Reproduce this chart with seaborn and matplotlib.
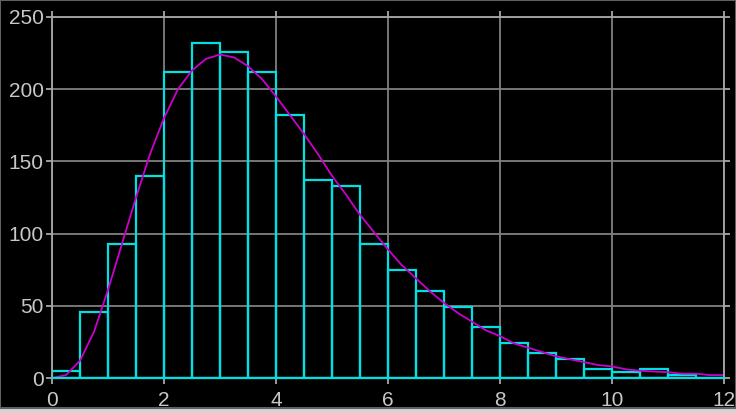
import numpy as np
import pandas as pd
import matplotlib
matplotlib.use("Agg")
import matplotlib.pyplot as plt
from matplotlib.patches import Rectangle
import seaborn as sns

# Histogram: bins of width 0.5 from 0 to 12, counts
bin_left = np.arange(0, 12, 0.5)
counts = [5, 46, 93, 140, 212, 232, 226, 212, 182, 137, 133, 93,
          75, 60, 49, 35, 24, 17, 13, 6, 4, 6, 2, 0]

# Fitted curve (magenta), values every 0.25
curve_x = np.arange(0, 12.25, 0.25)
curve_y = [0, 2, 12, 32, 61, 93, 125, 155, 180, 200, 213, 221, 224,
           222, 216, 207, 195, 182, 169, 155, 140, 127, 113, 101, 89,
           78, 69, 60, 52, 45, 39, 33, 29, 24, 21, 18, 15, 13, 11, 9,
           8, 6, 5, 4.5, 4, 3, 3, 2, 2]

hist_df = pd.DataFrame({"x": bin_left + 0.25, "n": counts})
curve_df = pd.DataFrame({"x": curve_x, "y": curve_y})

sns.set_style("dark")
plt.rcParams["font.family"] = ["Liberation Sans", "DejaVu Sans"]

fig = plt.figure(figsize=(7.36, 4.13), dpi=100, facecolor="black")
ax = fig.add_axes([52 / 736, 1 - 378 / 413, 672 / 736, 361 / 413])
ax.set_facecolor("black")

sns.histplot(data=hist_df, x="x", weights="n", binwidth=0.5,
             binrange=(0, 12), fill=False, element="bars",
             color="#00e0e0", linewidth=1.6, ax=ax)
sns.lineplot(data=curve_df, x="x", y="y", color="#cc00cc", linewidth=1.3,
             ax=ax)

ax.set_xlim(0, 12)
ax.set_ylim(0, 250)
ax.set_xticks(range(0, 13, 2))
ax.set_yticks(range(0, 251, 50))
ax.set_xlabel("")
ax.set_ylabel("")
ax.grid(True, color="#808080", linewidth=1.3)
ax.set_axisbelow(True)
for s in ax.spines.values():
    s.set_visible(True)
    s.set_color("#a8a8a8")
    s.set_linewidth(1.3)
# bar bottoms run along the whole x range in the reference
ax.spines["bottom"].set_color("#00e0e0")
ax.spines["bottom"].set_linewidth(1.6)
ax.tick_params(axis="both", colors="#a8a8a8", labelcolor="#c8c8c8",
               labelsize=15, length=4, width=1.3, direction="out",
               top=True, right=True, bottom=True, left=True,
               labeltop=False, labelright=False)
ax.tick_params(axis="x", pad=5)
ax.tick_params(axis="y", pad=2)

# window frame
fig.patches.append(Rectangle((0, 0), 1, 5 / 413, transform=fig.transFigure,
                             facecolor="#d4d4d4", edgecolor="none"))
fig.patches.append(Rectangle((0, 5 / 413), 1, 1 - 5 / 413,
                             transform=fig.transFigure, facecolor="none",
                             edgecolor="#606060", linewidth=1.5))

fig.savefig("out.png", dpi=100, facecolor="black")
